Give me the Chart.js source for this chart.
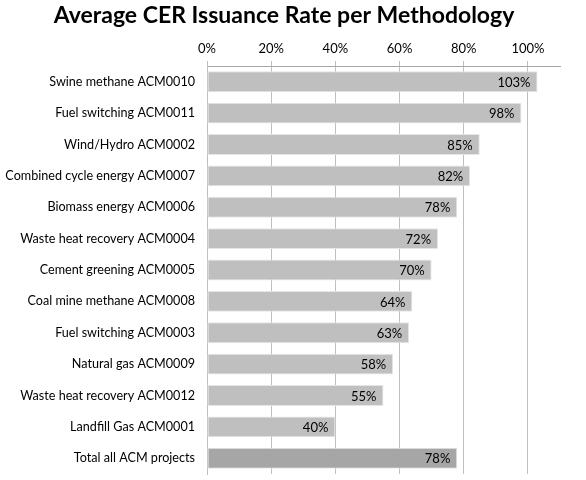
<!DOCTYPE html>
<html><head><meta charset="utf-8">
<script src="https://cdn.jsdelivr.net/npm/chart.js@4"></script>
<style>html,body{margin:0;padding:0;background:#fff}#wrap{width:586px;height:480px}</style>
</head><body><div id="wrap"><canvas id="c" width="586" height="480"></canvas></div>
<script>
const titleText = 'Average CER Issuance Rate per Methodology';
const categories = ['Swine methane ACM0010','Fuel switching ACM0011','Wind/Hydro ACM0002','Combined cycle energy ACM0007','Biomass energy ACM0006','Waste heat recovery ACM0004','Cement greening ACM0005','Coal mine methane ACM0008','Fuel switching ACM0003','Natural gas ACM0009','Waste heat recovery ACM0012','Landfill Gas ACM0001','Total all ACM projects'];
const values = [103,98,85,82,78,72,70,64,63,58,55,40,78];
const tickValues = [0,20,40,60,80,100];
const colors = values.map((v,i)=> i===values.length-1 ? '#A6A6A6' : '#BFBFBF');
const FONT = 'Lato, "Open Sans", sans-serif';

const titlePlugin = {
  id:'titleP',
  afterDraw(chart){
    const ctx = chart.ctx;
    ctx.save();
    ctx.font = 'bold 23px ' + FONT;
    ctx.fillStyle = '#000';
    ctx.textAlign = 'center';
    ctx.textBaseline = 'middle';
    ctx.fillText(titleText, 284, 16);
    ctx.restore();
  }
};
const labelPlugin = {
  id:'labelsP',
  afterDatasetsDraw(chart){
    const ctx = chart.ctx;
    const meta = chart.getDatasetMeta(0);
    ctx.save();
    ctx.font = '13px ' + FONT;
    ctx.fillStyle = '#000';
    ctx.textAlign = 'right';
    ctx.textBaseline = 'middle';
    meta.data.forEach((bar,i)=>{
      ctx.fillText(values[i] + '%', bar.x - 7, bar.y + 1);
    });
    ctx.restore();
  }
};

new Chart(document.getElementById('c'), {
  type:'bar',
  data:{ labels: categories, datasets:[{ data: values, backgroundColor: colors, borderColor:'#E6E6E6', borderWidth:1, borderSkipped:false, barPercentage:0.9, categoryPercentage:0.74 }]},
  options:{
    indexAxis:'y',
    responsive:false,
    animation:false,
    layout:{ padding:{ top:36, right:26, bottom:6, left:0 } },
    plugins:{ legend:{display:false}, tooltip:{enabled:false}, title:{display:false} },
    scales:{
      x:{
        position:'top', min:0, max:110,
        afterBuildTicks(s){ s.ticks = tickValues.map(v=>({value:v})); },
        afterFit(s){ s.height = 30; s.paddingLeft = 0; s.paddingRight = 0; },
        ticks:{ callback:v=>v+'%', color:'#000', font:{family:FONT, size:13}, padding:4, maxRotation:0 },
        grid:{ color:'#BFBFBF', lineWidth:1, tickLength:5, drawOnChartArea:true },
        border:{ display:true, color:'#A6A6A6' }
      },
      y:{
        afterFit(s){ s.width = 207; s.paddingTop = 0; s.paddingBottom = 0; },
        ticks:{ color:'#000', font:{family:FONT, size:12.6}, padding:12, crossAlign:'near' },
        grid:{ display:false, drawTicks:false },
        border:{ display:true, color:'#BFBFBF' }
      }
    }
  },
  plugins:[titlePlugin, labelPlugin]
});
</script></body></html>
